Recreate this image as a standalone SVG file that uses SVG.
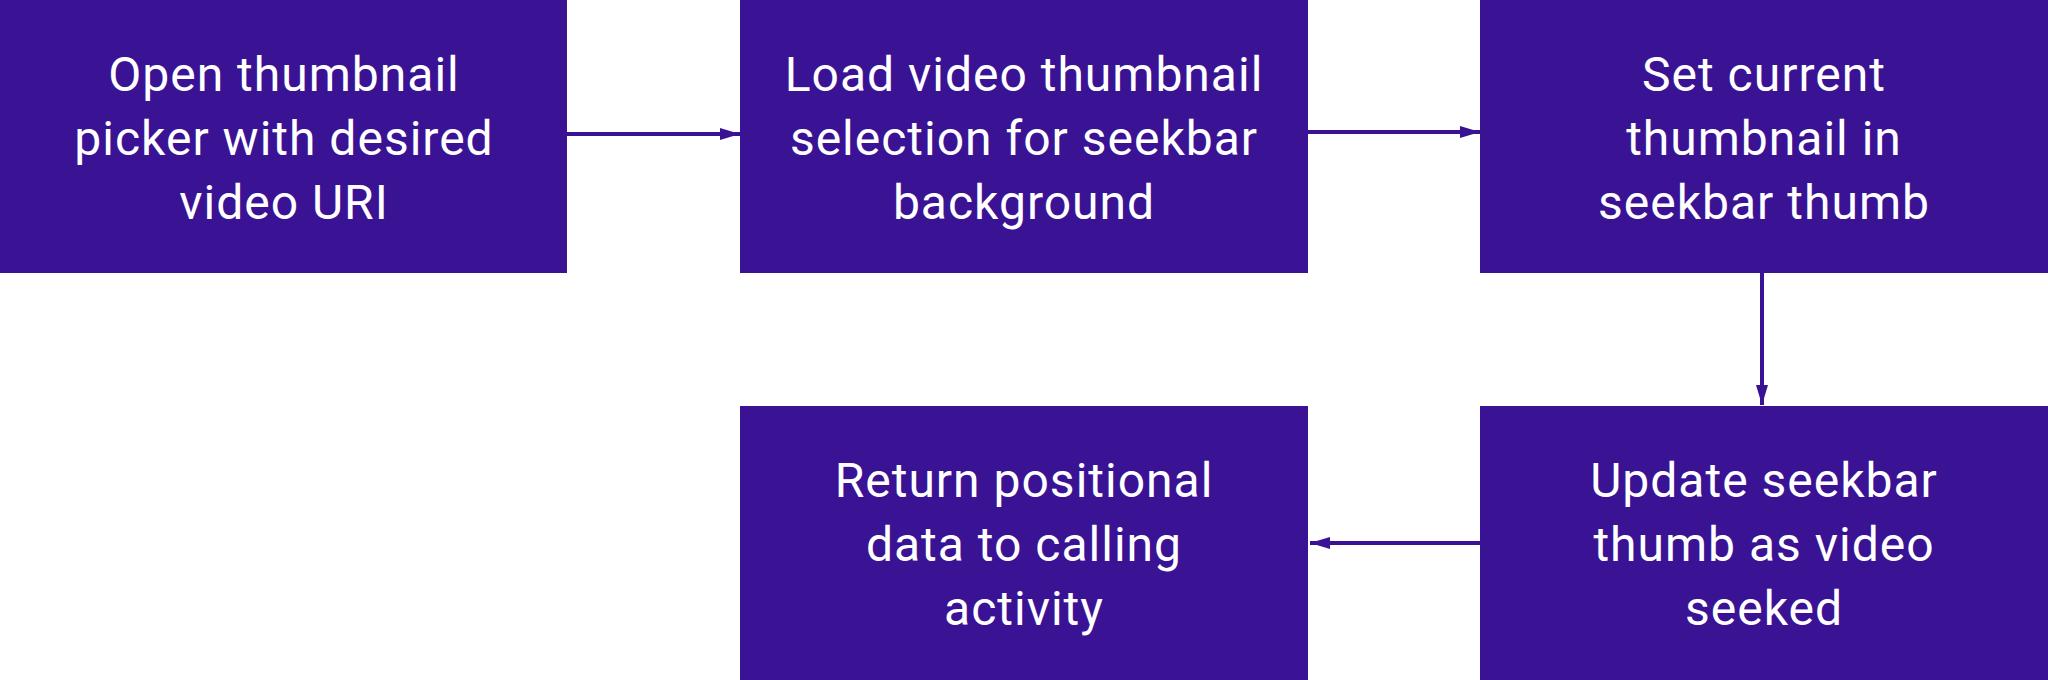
<svg xmlns="http://www.w3.org/2000/svg" width="2048" height="680" viewBox="0 0 2048 680">
<style>
.box{fill:#3a1395;}
.lbl{fill:#ffffff;font-family:Roboto,"Liberation Sans",sans-serif;font-size:48px;letter-spacing:1px;text-anchor:middle;}
.conn{stroke:#3a1395;stroke-width:4;fill:none;marker-end:url(#ah);}
</style>
<defs>
<marker id="ah" markerUnits="userSpaceOnUse" markerWidth="20" markerHeight="12" refX="20" refY="6" orient="auto">
<path d="M0,0 L20,6 L0,12 Z" fill="#3a1395"/>
</marker>
</defs>
<rect width="2048" height="680" fill="#ffffff"/>
<g id="connectors">
<line class="conn" x1="567" y1="134" x2="740" y2="134"/>
<line class="conn" x1="1308" y1="132" x2="1480" y2="132"/>
<line class="conn" x1="1762" y1="273" x2="1762" y2="405"/>
<line class="conn" x1="1480" y1="543" x2="1310" y2="543"/>
</g>
<g id="n1">
<rect class="box" x="0" y="0" width="567" height="273"/>
<text class="lbl"><tspan x="284" y="91">Open thumbnail</tspan><tspan x="284" y="155">picker with desired</tspan><tspan x="284" y="219">video URI</tspan></text>
</g>
<g id="n2">
<rect class="box" x="740" y="0" width="568" height="273"/>
<text class="lbl"><tspan x="1024" y="91">Load video thumbnail</tspan><tspan x="1024" y="155">selection for seekbar</tspan><tspan x="1024" y="219">background</tspan></text>
</g>
<g id="n3">
<rect class="box" x="1480" y="0" width="568" height="273"/>
<text class="lbl"><tspan x="1764" y="91">Set current</tspan><tspan x="1764" y="155">thumbnail in</tspan><tspan x="1764" y="219">seekbar thumb</tspan></text>
</g>
<g id="n4">
<rect class="box" x="1480" y="406" width="568" height="274"/>
<text class="lbl"><tspan x="1764" y="497">Update seekbar</tspan><tspan x="1764" y="561">thumb as video</tspan><tspan x="1764" y="625">seeked</tspan></text>
</g>
<g id="n5">
<rect class="box" x="740" y="406" width="568" height="274"/>
<text class="lbl"><tspan x="1024" y="497">Return positional</tspan><tspan x="1024" y="561">data to calling</tspan><tspan x="1024" y="625">activity</tspan></text>
</g>
</svg>
